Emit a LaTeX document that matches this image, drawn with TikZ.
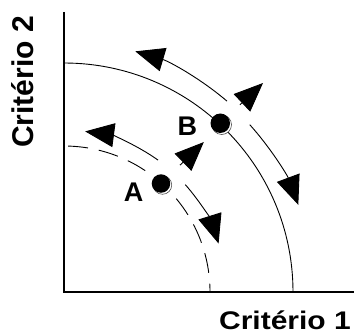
\documentclass[tikz,border=0pt]{standalone}
\usepackage{fontspec}
\setmainfont{Liberation Sans}
\usepackage{tikz}
\usetikzlibrary{arrows.meta,positioning}

\begin{document}
\begin{tikzpicture}[x=1pt, y=1pt,
  axis/.style={draw=black, line width=1.1pt},
  front/.style={draw=black, line width=0.9pt},
  frontdash/.style={front, dash pattern=on 20pt off 11pt},
  move/.style={draw=black, line width=0.9pt, -{Triangle[length=29pt, width=24pt]}},
  dot/.style={circle, fill=black, inner sep=0pt, minimum size=#1,
    preaction={draw=black!70, line width=0.6pt, fill=white, transform canvas={shift={(1.5pt,-1.5pt)}}}},
  lbl/.style={inner sep=0pt, font=\fontsize{27}{27}\selectfont\bfseries},
  axlbl/.style={inner sep=0pt, font=\fontsize{30}{30}\selectfont\bfseries}
]
  \useasboundingbox (0,0) rectangle (354,333);

  % axes
  \coordinate (O) at (64,41);
  \coordinate (ytop) at (64,321);
  \coordinate (xend) at (354,41);
  \draw[axis] (ytop) -- (O) -- (xend);
  \node[axlbl, rotate=90] (crit2) at (23,251) {Critério 2};
  \node[axlbl, yscale=0.85, anchor=base] (crit1) at (285,4) {Critério 1};

  % fronts
  \draw[front] ([shift={(90:229pt)}]O) arc[start angle=90, end angle=0, radius=229pt];
  \draw[frontdash] ([shift={(88.4:146pt)}]O) arc[start angle=88.4, end angle=0, radius=146pt];

  % points
  \node[dot=19.5pt] (ptB) at ([shift={(47.2:230pt)}]O) {};
  \node[dot=18.5pt] (ptA) at ([shift={(48.2:145.5pt)}]O) {};
  \node[lbl, left=13pt of ptB, yshift=-2.5pt] (labB) {B};
  \node[lbl, left=8pt of ptA, yshift=-8.5pt] (labA) {A};

  % moves along the front
  \coordinate (b1) at ([shift={(49.5:251pt)}]O);
  \coordinate (b2) at ([shift={(42:250pt)}]O);
  \coordinate (a1) at ([shift={(54.5:162pt)}]O);
  \coordinate (a2) at ([shift={(41.5:162pt)}]O);
  \draw[move] (b1) arc[start angle=49.5, end angle=73.5, radius=251pt];
  \draw[move] (b2) arc[start angle=42, end angle=20.4, radius=250pt];
  \draw[move] (a1) arc[start angle=54.5, end angle=82.5, radius=162pt];
  \draw[move] (a2) arc[start angle=41.5, end angle=17.4, radius=162pt];

  % moves away from the front
  \coordinate (tipB) at ([shift={(46.4:288.6pt)}]O);
  \coordinate (tipA) at ([shift={(47:205pt)}]O);
  \draw[move, shorten <=17pt] (ptB) -- (tipB);
  \draw[move, shorten <=17pt] (ptA) -- (tipA);
\end{tikzpicture}
\end{document}
